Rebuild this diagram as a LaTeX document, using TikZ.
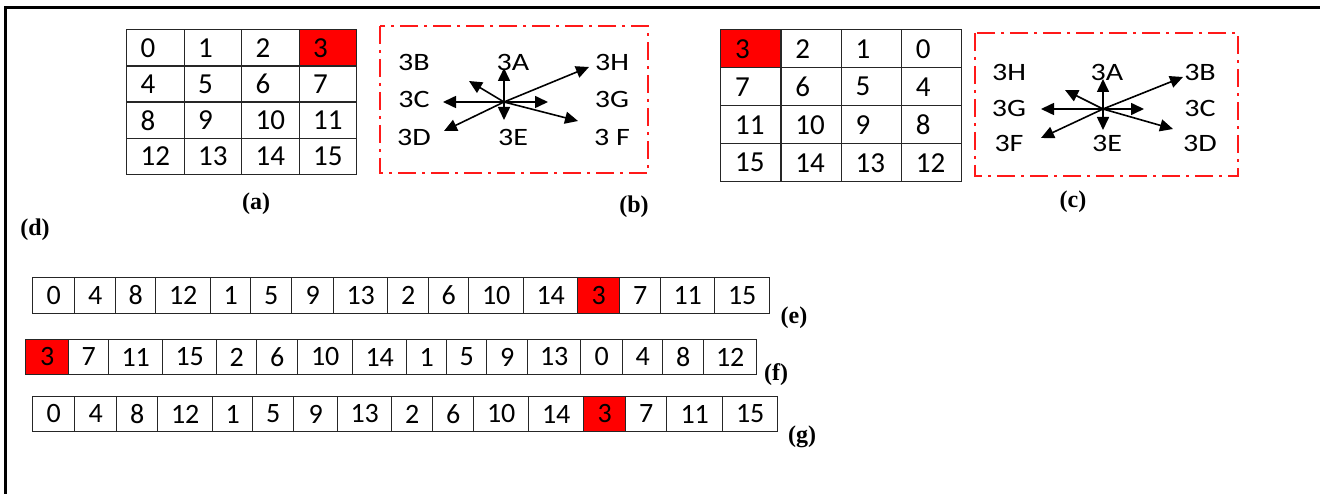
\documentclass[tikz,border=0pt]{standalone}
\usepackage{fontspec}
\setmainfont{Carlito}
\newfontfamily\capfont{Liberation Serif}
\usetikzlibrary{arrows.meta}
\newcommand{\widetxt}[1]{\scalebox{1.2}[1]{#1}}
\begin{document}
\begin{tikzpicture}[x=1pt,y=-1pt,
  cellline/.style={draw=black!85,line width=1.4pt},
  gcell/.style={cellline,inner ysep=0pt,inner xsep=14pt,anchor=north west,align=left,
     font=\fontsize{29}{29}\selectfont},
  rcell/.style={cellline,inner sep=0pt,anchor=west,minimum height=35.5pt,
     font=\fontsize{28}{28}\selectfont},
  dashbox/.style={draw=red!90!white,line width=1.7pt,dash pattern=on 18pt off 6pt on 3pt off 6pt},
  dirlbl/.style={inner sep=0pt,font=\fontsize{25}{25}\selectfont},
  arr/.style={line width=1.6pt,-{Triangle[length=13pt,width=12pt]}},
  caplbl/.style={inner sep=0pt,font=\capfont\bfseries\fontsize{24}{24}\selectfont}]
\useasboundingbox (0,0) rectangle (1320,494);
\fill[white] (0,0) rectangle (1320,494);
% frame
\draw[line width=2.5pt] (5.5,494) -- (5.5,7.5) -- (1320,7.5);

% grid (a)
\foreach \t/\f [count=\k from 0] in {0/white,1/white,2/white,3/red,4/white,5/white,6/white,7/white,8/white,9/white,10/white,11/white,12/white,13/white,14/white,15/white}{
  \pgfmathtruncatemacro\r{int(\k/4)}
  \pgfmathtruncatemacro\c{mod(\k,4)}
  \node[gcell,fill=\f,text width=29.5pt,minimum height=36.25pt] (a\k) at ({126+57.5*\c},{29+36.25*\r}) {\t};
}
% grid (c)
\foreach \t/\f [count=\k from 0] in {3/red,2/white,1/white,0/white,7/white,6/white,5/white,4/white,11/white,10/white,9/white,8/white,15/white,14/white,13/white,12/white}{
  \pgfmathtruncatemacro\r{int(\k/4)}
  \pgfmathtruncatemacro\c{mod(\k,4)}
  \node[gcell,fill=\f,text width=31.25pt,inner xsep=14.5pt,minimum height=38pt] (c\k) at ({720+60.25*\c},{29+38*\r}) {\t};
}

% box (b)
\draw[dashbox] (380,26) rectangle (648,173);
\node[dirlbl] (b3B) at (414,62) {\widetxt{3B}};
\node[dirlbl] (b3A) at (513,62) {\widetxt{3A}};
\node[dirlbl] (b3H) at (612,62) {\widetxt{3H}};
\node[dirlbl] (b3C) at (414,99) {\widetxt{3C}};
\node[dirlbl] (b3G) at (612,99) {\widetxt{3G}};
\node[dirlbl] (b3D) at (414,137) {\widetxt{3D}};
\node[dirlbl] (b3E) at (513,137) {\widetxt{3E}};
\node[dirlbl] (b3F) at (612,137) {\widetxt{3 F}};
\coordinate (bo) at (504,102);
\coordinate (bu) at (504,68);
\coordinate (bl) at (443,102);
\coordinate (br) at (548,102);
\coordinate (bd) at (504,120);
\coordinate (bul) at (469,81);
\coordinate (bur) at (589,67);
\coordinate (bdl) at (444,131);
\coordinate (bdr) at (578,121);
\foreach \e in {bu,bl,br,bd,bul,bur,bdl,bdr}{\draw[arr] (bo) -- (\e);}

% box (c)
\draw[dashbox] (975,33) rectangle (1238,176);
\node[dirlbl] (c3H) at (1009,72) {\widetxt{3H}};
\node[dirlbl] (c3A) at (1107,72) {\widetxt{3A}};
\node[dirlbl] (c3B) at (1200,72) {\widetxt{3B}};
\node[dirlbl] (c3G) at (1009,108) {\widetxt{3G}};
\node[dirlbl] (c3C) at (1200,108) {\widetxt{3C}};
\node[dirlbl] (c3F) at (1009,143) {\widetxt{3F}};
\node[dirlbl] (c3E) at (1107,143) {\widetxt{3E}};
\node[dirlbl] (c3D) at (1200,143) {\widetxt{3D}};
\coordinate (co) at (1103,109);
\coordinate (cu) at (1103,79);
\coordinate (cl) at (1041,109);
\coordinate (cr) at (1144,109);
\coordinate (cd) at (1103,130);
\coordinate (cul) at (1065,90);
\coordinate (cur) at (1183,77);
\coordinate (cdl) at (1041,138);
\coordinate (cdr) at (1173,129);
\foreach \e in {cu,cl,cr,cd,cul,cur,cdl,cdr}{\draw[arr] (co) -- (\e);}

% row (e)
\foreach \xa/\xb/\t/\f [count=\k] in {32/74/0/white,74/115/4/white,115/155/8/white,155/210/12/white,210/250/1/white,250/291/5/white,291/333/9/white,333/387/13/white,387/428/2/white,428/468/6/white,468/523/10/white,523/577/14/white,577/619/3/red,619/660/7/white,660/714/11/white,714/769/15/white}{
  \pgfmathsetmacro\w{\xb-\xa}
  \node[rcell,fill=\f,minimum width=\w pt] (e\k) at (\xa,295.5) {\t};
}
% row (f)
\foreach \xa/\xb/\t/\f [count=\k] in {25/68/3/red,68/108/7/white,108/162/11/white,162/216/15/white,216/256/2/white,256/297/6/white,297/352/10/white,352/406/14/white,406/446/1/white,446/486/5/white,486/527/9/white,527/580/13/white,580/622/0/white,622/662/4/white,662/703/8/white,703/756/12/white}{
  \pgfmathsetmacro\w{\xb-\xa}
  \node[rcell,fill=\f,minimum width=\w pt] (f\k) at (\xa,357) {\t};
}
% row (g)
\foreach \xa/\xb/\t/\f [count=\k] in {32/74/0/white,74/116/4/white,116/157/8/white,157/212/12/white,212/252/1/white,252/293/5/white,293/337/9/white,337/391/13/white,391/432/2/white,432/473/6/white,473/528/10/white,528/583/14/white,583/625/3/red,625/666/7/white,666/722/11/white,722/777/15/white}{
  \pgfmathsetmacro\w{\xb-\xa}
  \node[rcell,fill=\f,minimum width=\w pt] (g\k) at (\xa,414) {\t};
}

% captions
\node[caplbl] (capa) at (256,204) {(a)};
\node[caplbl] (capb) at (634,207) {(b)};
\node[caplbl] (capc) at (1073,202) {(c)};
\node[caplbl] (capd) at (35,230) {(d)};
\node[caplbl] (cape) at (794,318) {(e)};
\node[caplbl] (capf) at (776,375) {(f)};
\node[caplbl] (capg) at (802,437) {(g)};
\end{tikzpicture}
\end{document}
